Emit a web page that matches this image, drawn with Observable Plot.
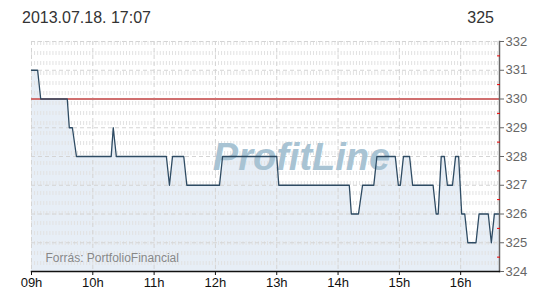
<!DOCTYPE html>
<html>
<head>
<meta charset="utf-8">
<script src="https://cdn.jsdelivr.net/npm/d3@7"></script>
<script src="https://cdn.jsdelivr.net/npm/@observablehq/plot@0.6"></script>
<style>
  html, body { margin: 0; padding: 0; background: #fff; }
  body { width: 550px; height: 300px; overflow: hidden; font-family: "Liberation Sans", Arial, sans-serif; }
  #header { position: relative; height: 30px; color: #333; font-size: 16px; }
  #header span { position: absolute; top: 10px; line-height: 16px; }
  #title { left: 22px; }
  #last { right: 56px; }
</style>
</head>
<body>
<div id="header"><span id="title"></span><span id="last"></span></div>
<div id="chart"></div>
<script>
const titleText = "2013.07.18. 17:07";
const lastText = "325";
const sourceText = "Forrás: PortfolioFinancial";
const watermarkText = "ProfitLine";

const times = ["09:00","09:06","09:09","09:35","09:37","09:40","09:44","10:18","10:20","10:23",
  "11:12","11:15","11:18","11:29","11:32","12:04","12:07","13:00","13:02","14:11",
  "14:13","14:20","14:24","14:35","14:38","14:56","14:59","15:01","15:04","15:10",
  "15:13","15:33","15:36","15:38","15:41","15:44","15:47","15:52","15:55","15:58",
  "16:01","16:04","16:07","16:15","16:18","16:27","16:30","16:33","16:38"];
const prices = [331,331,330,330,329,329,328,328,329,328,
  328,327,328,328,327,327,328,328,327,327,
  326,326,327,327,328,328,327,327,328,328,
  327,327,326,326,328,328,327,327,328,328,
  326,326,325,325,326,326,325,326,326];
const timeRange = ["09:00", "16:38"];
const priceRange = [324, 332];
const reference = 330;

const parse = d3.timeParse("%H:%M");
const data = times.map((t, i) => ({t: parse(t), v: prices[i]}));

document.getElementById("title").textContent = titleText;
document.getElementById("last").textContent = lastText;

const majorY = d3.range(priceRange[0], priceRange[1] + 1);
const halfY = majorY.slice(0, -1).map(d => d + 0.5);
const hours = d3.timeHour.range(parse(timeRange[0]), d3.timeMinute.offset(parse(timeRange[1]), 1));
const minorX = d3.timeMinute.every(3).range(parse(timeRange[0]), parse(timeRange[1]));

const chart = Plot.plot({
  width: 550,
  height: 270,
  marginTop: 11,
  marginBottom: 29,
  marginLeft: 31,
  marginRight: 51,
  style: {fontFamily: "'Liberation Sans', Arial, sans-serif", background: "transparent"},
  x: {type: "time", domain: timeRange.map(parse)},
  y: {domain: priceRange},
  marks: [
    Plot.areaY(data, {x: "t", y1: priceRange[0], y2: "v", fill: "#e7eef6"}),
    Plot.ruleX(minorX, {stroke: "#e2e2e2", strokeWidth: 1, strokeDasharray: "4,6"}),
    Plot.gridY({ticks: majorY, stroke: "#d4d4d4", strokeOpacity: 1, strokeDasharray: "4,3"}),
    Plot.gridX({ticks: hours, stroke: "#d4d4d4", strokeOpacity: 1, strokeDasharray: "4,3"}),
    Plot.text([watermarkText], {frameAnchor: "middle", dx: 36, dy: 1, fontSize: 38, fontWeight: "bold", fontStyle: "italic", fill: "#a8c3d3"}),
    Plot.text([sourceText], {frameAnchor: "bottom-left", dx: 14, dy: -10, textAnchor: "start", fontSize: 12, fill: "#888"}),
    Plot.ruleY([reference], {stroke: "#d06f6f", strokeWidth: 2}),
    Plot.line(data, {x: "t", y: "v", stroke: "#2e4b63", strokeWidth: 1.3}),
    Plot.frame({anchor: "right", stroke: "#666", strokeWidth: 1.5}),
    Plot.frame({anchor: "bottom", stroke: "#111", strokeWidth: 1.5}),
    Plot.axisY({anchor: "right", ticks: majorY, tickSize: 4, tickPadding: 2, stroke: "#666", fill: "#666", fontSize: 13, tickFormat: d => d, label: null}),
    Plot.axisY({anchor: "right", ticks: halfY, tickSize: 3, dx: -3, stroke: "#e00", text: null, label: null}),
    Plot.axisX({ticks: hours, tickSize: 4, tickPadding: 2, stroke: "#111", fill: "#111", fontSize: 13, tickFormat: d3.timeFormat("%Hh"), label: null})
  ]
});
document.getElementById("chart").appendChild(chart);
</script>
</body>
</html>
